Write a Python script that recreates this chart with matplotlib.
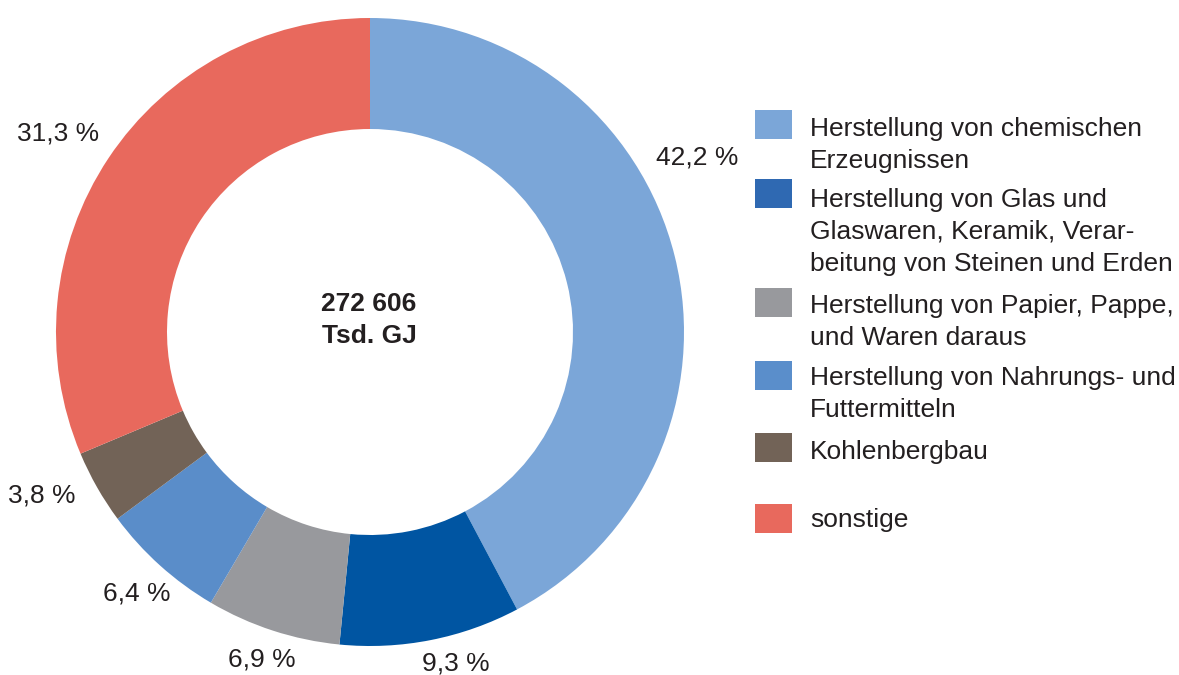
import matplotlib
matplotlib.use("Agg")
import matplotlib.pyplot as plt
from matplotlib.patches import Rectangle

plt.rcParams['font.family'] = ['Liberation Sans', 'DejaVu Sans']

# data
categories = ["Herstellung von chemischen\nErzeugnissen",
              "Herstellung von Glas und\nGlaswaren, Keramik, Verar-\nbeitung von Steinen und Erden",
              "Herstellung von Papier, Pappe,\nund Waren daraus",
              "Herstellung von Nahrungs- und\nFuttermitteln",
              "Kohlenbergbau",
              "sonstige"]
shares = [42.2, 9.3, 6.9, 6.4, 3.8, 31.3]
share_labels = ["42,2 %", "9,3 %", "6,9 %", "6,4 %", "3,8 %", "31,3 %"]
slice_colors = ["#7BA6D8", "#0055A2", "#98999D", "#5A8DC9", "#726357", "#E8695D"]
legend_colors = ["#7BA6D8", "#2F69B2", "#98999D", "#5A8ECB", "#726357", "#E8695D"]
total_label = "272 606\nTsd. GJ"

W, H = 1179, 675
fig = plt.figure(figsize=(W / 100, H / 100), dpi=100)
ax = fig.add_axes([0, 0, 1, 1])

# y axis is inverted below -> start at visual top, go clockwise
ax.pie(shares, colors=slice_colors, center=(370, 332), radius=314,
       startangle=-90, counterclock=True, frame=True,
       wedgeprops=dict(width=111, linewidth=0))
ax.set_xlim(0, W)
ax.set_ylim(H, 0)  # pixel coords, y down
ax.axis("off")

txt = "#231F20"
fs = 19

# percentage labels (placed like the original, outside the ring)
label_pos = [(697, 158), (456, 664), (262, 660), (137, 594), (42, 495), (58, 134)]
for (x, y), s in zip(label_pos, share_labels):
    ax.text(x, y, s, fontsize=fs, color=txt, ha="center", va="center")

# centre total
for i, line in enumerate(total_label.split("\n")):
    ax.text(369, 304 + 32 * i, line, fontsize=fs, fontweight="bold",
            color=txt, ha="center", va="center")

# legend
patch_top = [110, 179, 288, 361, 433, 504]
first_line = [129, 200, 306, 378, 452, 520]
for top, y0, name, c in zip(patch_top, first_line, categories, legend_colors):
    ax.add_patch(Rectangle((755, top), 37, 29, facecolor=c, edgecolor="none"))
    for j, line in enumerate(name.split("\n")):
        ax.text(810, y0 + 32 * j, line, fontsize=fs, color=txt,
                ha="left", va="center")

fig.savefig("out.png", dpi=100)
